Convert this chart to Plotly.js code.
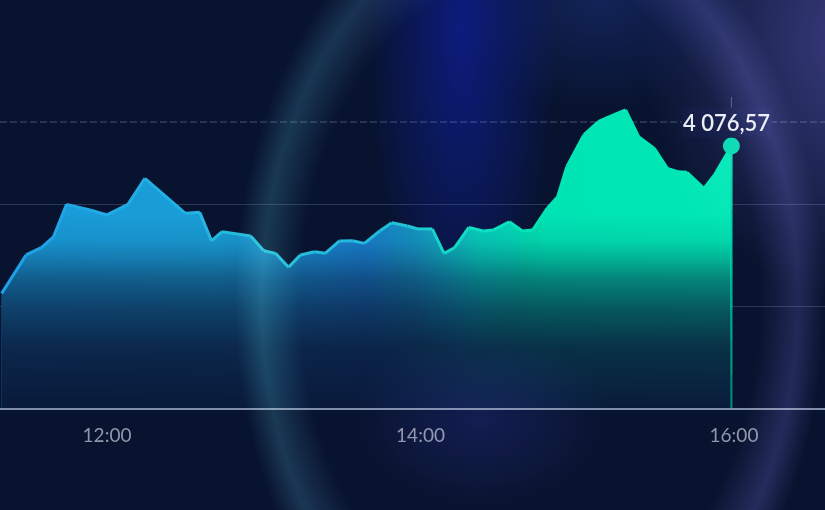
<!DOCTYPE html>
<html><head><meta charset="utf-8">
<script src="https://cdn.plot.ly/plotly-3.0.1.min.js"></script>
<style>
html,body{margin:0;padding:0;background:#08132f;width:825px;height:510px;overflow:hidden;}
#wrap{position:relative;width:825px;height:510px;background:#08132f;}
#chart{position:absolute;left:0;top:0;width:825px;height:510px;}
.glow{position:absolute;left:0;top:0;width:825px;height:510px;pointer-events:none;mix-blend-mode:screen;}
#g1{background:
 radial-gradient(ellipse 95px 330px at 462px 30px, rgba(6,12,120,0.8), rgba(6,12,120,0) 100%),
 radial-gradient(ellipse 150px 110px at 600px 0px, rgba(15,25,70,0.7), rgba(15,25,70,0) 100%),
 radial-gradient(ellipse 220px 260px at 860px 40px, rgba(60,52,115,0.85), rgba(60,52,115,0) 100%),
 radial-gradient(ellipse 130px 90px at 480px 420px, rgba(20,20,70,0.6), rgba(20,20,70,0) 100%);}
#ring{background:conic-gradient(from 0deg at 525px 300px, rgb(40,38,85) 0deg, rgb(42,40,80) 90deg, rgb(55,48,100) 150deg, rgb(35,55,75) 205deg, rgb(30,75,78) 260deg, rgb(28,62,72) 320deg, rgb(40,38,85) 360deg);
 -webkit-mask-image:radial-gradient(ellipse 295px 420px at 530px 300px, rgba(0,0,0,0) 78%, rgba(0,0,0,0.6) 91%, rgba(0,0,0,0) 100%);
 mask-image:radial-gradient(ellipse 295px 420px at 530px 300px, rgba(0,0,0,0) 78%, rgba(0,0,0,0.6) 91%, rgba(0,0,0,0) 100%);}
</style></head>
<body>
<div id="wrap"><div id="chart"></div><div class="glow" id="g1"></div><div class="glow" id="ring"></div></div>
<script>
// ---- data ----
const day = '2024-03-15 ';
const times = ['11:19:40','11:29:00','11:35:00','11:39:30','11:44:30','11:53:30','12:00:00','12:08:00','12:14:30','12:30:00',
 '12:35:30','12:40:00','12:44:00','12:55:00','13:00:00','13:04:30','13:09:30','13:14:00','13:19:30','13:23:30',
 '13:29:00','13:34:00','13:38:30','13:44:30','13:49:00','13:55:00','13:59:00','14:04:30','14:09:00','14:13:00',
 '14:18:30','14:24:00','14:28:00','14:34:00','14:39:00','14:43:00','14:48:30','14:52:30','14:56:00','15:02:30',
 '15:08:00','15:13:00','15:18:30','15:23:30','15:29:30','15:34:30','15:38:30','15:42:00','15:48:30','15:52:30','15:59:00'];
const values = [4002.9,4022.1,4025.9,4031.2,4047.4,4044.6,4042.1,4047.4,4060.4,4042.9,
 4043.4,4029.1,4033.7,4031.6,4024.2,4022.9,4015.9,4022.1,4023.7,4022.9,
 4029.1,4029.2,4027.9,4034.2,4038.2,4036.6,4035.1,4035.1,4022.9,4025.7,
 4035.9,4034.1,4034.6,4038.7,4034.1,4034.6,4045.4,4051.2,4066.2,4082.1,
 4088.7,4091.6,4094.6,4081.2,4075.4,4065.4,4063.7,4063.4,4055.4,4062.1,4076.57];
const lastLabel = '4 076,57';
const refLevel = 4088.57;
const gridLevels = [3996.57, 4047.57];
const yRange = [3945.57, 4101.07];
const xRange = ['11:19:02', '16:34:50'];
const tickTimes = ['12:00', '14:00', '16:00'];

// ---- build ----
const X = times.map(t => day + t);
const n = X.length;
const tms = times.map(t => Date.parse('2024-03-15T' + t));
const t0 = tms[0], t1 = tms[n - 1];
const lineStops = [[0,[30,160,232]],[0.25,[35,178,228]],[0.35,[38,192,215]],[0.5,[35,185,222]],[0.57,[30,200,208]],[0.62,[15,220,188]],[0.72,[5,228,182]],[1,[0,232,180]]];
function colAt(f){
  for (let i=1;i<lineStops.length;i++){
    if (f<=lineStops[i][0]){
      const a=lineStops[i-1], b=lineStops[i], k=(f-a[0])/(b[0]-a[0]);
      const c=a[1].map((v,j)=>Math.round(v+(b[1][j]-v)*k));
      return 'rgb('+c.join(',')+')';
    }
  }
  return 'rgb(0,232,180)';
}
const vmax = Math.max(...values);
const traces = [];
traces.push({x:X, y:values, mode:'lines', line:{width:0}, fill:'tozeroy', hoverinfo:'skip',
  fillgradient:{type:'horizontal', colorscale:[[0,'rgb(25,155,218)'],[0.3,'rgb(25,158,214)'],[0.5,'rgb(25,128,208)'],[0.57,'rgb(20,150,188)'],[0.65,'rgb(5,205,175)'],[0.75,'rgb(0,228,180)'],[1,'rgb(0,232,180)']]}});
traces.push({x:X, y:values, mode:'lines', line:{width:0}, fill:'tozeroy', hoverinfo:'skip',
  fillgradient:{type:'vertical', start:yRange[0], stop:vmax, colorscale:[[0,'rgba(9,22,54,0.97)'],[0.2,'rgba(9,22,54,0.87)'],[0.33,'rgba(9,22,54,0.68)'],[0.43,'rgba(9,22,54,0.47)'],[0.5,'rgba(9,22,54,0.24)'],[0.56,'rgba(9,22,54,0.08)'],[0.65,'rgba(9,22,54,0)'],[1,'rgba(9,22,54,0)']]}});
for (let i=0;i<n-1;i++){
  const f=((tms[i]+tms[i+1])/2 - t0)/(t1-t0);
  traces.push({x:[X[i],X[i+1]], y:[values[i],values[i+1]], mode:'lines', line:{width:3, color:colAt(f)}, hoverinfo:'skip'});
}
// vertical drop from last point to baseline, fading
const steps = 8;
for (let s=0;s<steps;s++){
  const ya = values[n-1] - (values[n-1]-yRange[0])*s/steps;
  const yb = values[n-1] - (values[n-1]-yRange[0])*(s+1)/steps;
  traces.push({x:[X[n-1],X[n-1]], y:[ya,yb], mode:'lines', line:{width:2.5, color:'rgba(0,222,178,'+(0.95-0.6*s/steps).toFixed(2)+')'}, hoverinfo:'skip'});
}
traces.push({x:[X[n-1]], y:[values[n-1]], mode:'markers', marker:{size:17, color:'#00d9ae'}, hoverinfo:'skip'});

const layout = {
  width:825, height:510, margin:{l:0,r:0,t:97,b:102},
  paper_bgcolor:'rgba(0,0,0,0)', plot_bgcolor:'rgba(0,0,0,0)', showlegend:false,
  xaxis:{type:'date', range:xRange.map(t=>day+t), showgrid:false, zeroline:false, showline:true, linecolor:'#7f8ea8', linewidth:1.5,
    tickvals:tickTimes.map(t=>day+t+':00'), ticktext:tickTimes, ticks:'', ticklabelstandoff:10,
    tickfont:{family:'Lato', size:19, color:'#9196ab'}, fixedrange:true},
  yaxis:{range:yRange, tickvals:gridLevels, showticklabels:false, gridcolor:'rgba(140,160,205,0.25)', gridwidth:1, zeroline:false, showline:false, fixedrange:true},
  shapes:[
    {type:'line', xref:'paper', x0:0, x1:1, yref:'y', y0:refLevel, y1:refLevel, line:{color:'rgba(160,175,205,0.4)', width:1, dash:'7px,3px'}, layer:'below'},
    {type:'line', xref:'x', x0:X[n-1], x1:X[n-1], yref:'y', y0:values[n-1], y1:yRange[1], line:{color:'rgba(160,175,205,0.45)', width:1}, layer:'below'}
  ],
  annotations:[{x:X[n-1], y:values[n-1], xref:'x', yref:'y', text:lastLabel, showarrow:false, yshift:24, xshift:-5,
    font:{family:'Lato', size:22, weight:600, color:'#e9edf5'}, bgcolor:'#0b1637', borderpad:1}]
};
Plotly.newPlot('chart', traces, layout, {displayModeBar:false, staticPlot:true});
</script>
</body></html>
